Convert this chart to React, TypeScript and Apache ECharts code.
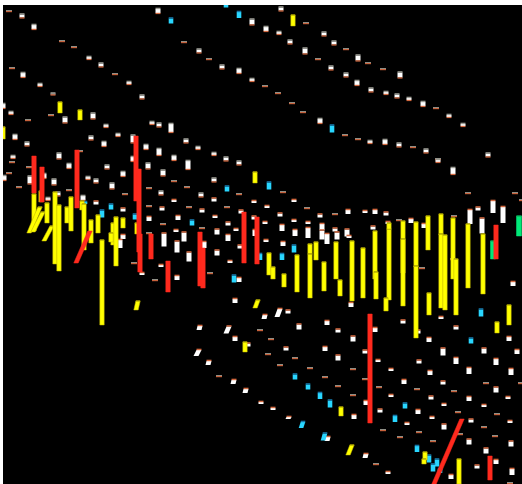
import React, { useEffect, useRef } from "react";
import * as echarts from "echarts";

// [x, y] flat, near-zero bars
const flatBars: number[][] = [
  [9,11],[62,41],[74,47],[115,74],[184,42],[209,59],[12,68],[28,120],[51,115],[80,151],[306,23],[346,49],[368,63],[383,69],[318,59],[436,108],
  [265,86],[278,93],[292,103],[303,112],[345,135],[358,139],[413,147],[438,159],[12,162],[29,167],[9,173],[19,187],[174,181],[187,187],[149,188],
  [125,194],[69,190],[239,194],[149,206],[189,207],[227,207],[163,224],[202,228],[149,233],[134,263],[210,273],[155,280],[468,193],[515,193],
  [522,200],[283,192],[307,208],[335,214],[399,220],[454,216],[422,268],[453,259],[219,376],[260,330],[271,339],[268,354],[295,358],[280,365],
  [310,368],[353,369],[325,377],[365,379],[486,383],[521,383],[338,386],[379,387],[417,389],[454,391],[353,395],[458,412],[497,414],[484,427],
  [383,430],[419,432],[460,434],[495,436],[400,437],[433,441],[376,464],[510,483],
];

// [x, y, height, lean]
const whiteBars: number[][] = [
  [22,16,3],[34,27,4],[89,58,2],[101,65,3],[129,83,2],[142,97,3],[158,11,4],[199,51,3],[222,67,3],[239,71,4],[252,22,5],[252,80,2],[23,75,4],
  [40,85,2],[53,94,1],[3,106,4],[11,113,2],[65,120,5],[93,116,5],[106,126,2],[91,138,3],[118,135,2],[15,137,4],[27,144,3],[104,144,4],[133,139,7],
  [152,123,2],[159,125,3],[171,128,8],[146,147,4],[159,152,6],[186,141,3],[198,148,2],[214,154,2],[226,159,3],[13,157,2],[59,156,5],[174,158,4],
  [133,159,4],[281,9,3],[266,29,4],[279,33,2],[290,42,3],[305,51,5],[324,34,3],[334,43,3],[358,58,5],[331,68,3],[346,75,3],[357,83,4],[371,90,3],
  [400,75,5],[386,93,2],[397,96,3],[409,99,2],[423,104,4],[449,116,2],[463,125,2],[488,155,3],[320,121,4],[370,142,2],[385,142,4],[399,145,3],
  [426,151,3],[69,166,4],[107,167,3],[4,178,4],[30,180,7],[44,176,4],[54,182,5],[88,178,2],[96,181,3],[123,174,4],[148,166,5],[163,173,5],
  [188,165,8],[239,163,3],[214,180,3],[161,193,3],[112,186,5],[58,194,3],[201,195,3],[174,201,2],[214,200,3],[254,202,2],[48,199,2],[83,198,4],
  [96,203,3],[123,210,3],[162,209,3],[202,211,3],[241,212,3],[215,217,2],[228,224,3],[254,218,3],[149,219,4],[178,218,4],[236,230,2],[176,231,2],
  [217,232,5],[228,238,6],[255,233,6],[164,240,13],[184,237,9],[177,247,11],[204,245,6],[123,237,4],[120,244,8],[240,247,3],[189,257,9],[217,253,5],
  [230,262,2],[161,266,2],[142,274,2],[177,278,4],[239,280,4],[235,301,4],[438,161,2],[453,171,6],[294,201,2],[267,207,2],[280,215,3],[294,221,2],
  [320,216,3],[348,212,4],[365,212,2],[375,212,4],[386,214,3],[478,209,3],[493,207,12],[503,215,16],[470,217,14],[482,226,15],[265,223,2],[282,228,6],
  [308,223,2],[308,233,10],[295,233,6],[322,227,6],[322,235,9],[335,230,3],[337,236,7],[327,239,10],[347,233,7],[349,237,2],[373,228,3],[388,223,2],
  [411,221,4],[424,226,4],[266,241,2],[283,244,4],[513,284,4],[351,305,4],[441,318,2],[264,317,4,1],[277,313,8,3],[288,312,3],[199,328,4,1],
  [226,330,7,3],[235,339,4],[248,345,3],[196,353,6,3],[208,363,4,1],[233,382,4,1],[245,391,4,1],[261,403,2],[299,327,5],[327,323,4],[338,331,3],
  [375,330,4],[403,322,3],[418,332,3],[456,328,3],[286,349,3],[353,339,5],[325,349,4],[429,340,4],[509,339,4],[338,358,5],[365,352,3],[443,352,7],
  [484,351,5],[517,352,4],[378,361,2],[419,362,3],[456,361,6],[496,362,6],[391,370,2],[430,373,4],[469,371,6],[511,372,6],[404,382,4],[443,383,3],
  [496,390,5],[391,396,2],[431,398,3],[469,399,4],[508,398,2],[366,403,4],[444,405,2],[484,406,2],[380,411,3],[418,412,4],[354,417,4],[432,418,2],
  [471,421,3],[510,422,2],[407,424,2],[444,427,5],[469,442,5],[511,444,5],[486,451,5],[496,462,4],[477,467,3],[512,472,6],[451,477,4],[273,409,2],
  [288,418,2,1],[327,439,4,1],[365,456,4,1],[388,473,2],
];

// [x, y, height, lean]
const cyanBars: number[][] = [
  [226,6,3],[171,21,5],[239,15,6],[332,129,7],[227,189,5],[85,203,2],[111,207,5],[102,214,7],[135,217,5],[192,223,5],[234,279,7],[260,257,6],
  [269,186,7],[294,249,7],[282,257,6],[481,313,7],[295,377,5],[308,387,5],[320,396,6],[330,404,7],[405,406,5],[395,419,6],[471,341,5],[417,449,6],
  [429,459,7],[437,463,7],[433,468,7],[440,471,4],[301,425,6,2],[323,437,7,2],
];

// [x, top, bottom, lean]
const yellowBars: number[][] = [
  [60,102,113],[80,110,120],[3,127,139],[293,15,26],[269,253,275],[273,267,279],[284,274,287],[297,255,292],[310,244,254],[310,254,298],[316,242,260],
  [324,262,291],[336,242,279],[340,280,296],[352,241,301],[363,248,298],[375,231,279],[376,272,299],[389,229,300],[389,223,229],[386,298,311],
  [403,221,273],[403,239,306],[416,222,267],[416,266,338],[428,216,250],[429,293,315],[441,214,235],[441,234,308],[445,235,310],[453,218,279],
  [456,259,315],[468,224,288],[483,234,294],[509,305,325],[34,194,231],[29,207,233,11],[33,212,232,10],[44,226,241,8],[41,191,202],[47,203,223],
  [55,192,264],[59,205,271],[67,207,223],[71,197,231],[82,201,210],[84,204,250],[91,220,243],[98,215,233],[102,240,325],[113,223,245],[111,233,242],
  [116,217,266],[123,218,228],[137,223,234],[255,172,183],[136,301,310,2],[255,300,308,3],[245,342,352],[341,407,416],[497,322,333],[425,452,460],
  [424,459,464],[459,459,484],[348,445,455,4],
];

// [x, top, bottom, lean]
const redBars: number[][] = [
  [34,156,193],[42,167,202],[77,150,208],[136,136,201],[139,169,252],[140,234,272],[151,234,259],[168,261,292],[200,232,286],[203,248,288],
  [244,212,263],[257,217,264],[370,314,423],[496,225,259],[490,456,480],[76,231,263,14],[434,419,484,28],
];

const greenBars: number[][] = [
  [519,216,236],[493,241,259],
];

type Look = { width: number; body: string; edge?: string; top?: string; bottom?: string };

// Rows given as [x, top, bottom, lean]
const tallBars = (look: Look) => (_: any, api: any) => {
  const lean = api.value(3) || 0;
  const [x, top] = api.coord([api.value(0) + lean, api.value(1)]);
  const [bx, bottom] = api.coord([api.value(0), api.value(2)]);
  const w = look.width / 2;
  const children: any[] = [
    {
      type: "polygon",
      shape: { points: [[x - w, top], [x + w, top], [bx + w, bottom], [bx - w, bottom]] },
      style: { fill: look.body, stroke: look.edge || look.body, lineWidth: 0.5 },
    },
  ];
  if (look.top) {
    children.push({ type: "rect", shape: { x: x - w, y: top - 0.7, width: look.width, height: 1.2 }, style: { fill: look.top } });
  }
  return { type: "group", children };
};

// Rows given as [x, centre y, height, lean]
const smallBars = (look: Look, orangeTopFrom: number) => (_: any, api: any) => {
  const lean = api.value(3) || 0;
  const yMid = api.value(1);
  const h = api.value(2);
  const [x, top] = api.coord([api.value(0) + lean, yMid - h / 2]);
  const [bx, bottom] = api.coord([api.value(0), yMid + h / 2]);
  const w = look.width / 2;
  const orangeTop = yMid >= orangeTopFrom;
  const children: any[] = [
    { type: "polygon", shape: { points: [[x - w, top], [x + w, top], [bx + w, bottom], [bx - w, bottom]] }, style: { fill: look.body } },
    { type: "rect", shape: { x: x - w, y: top - 1.3, width: look.width, height: 1.5 }, style: { fill: orangeTop ? look.bottom : look.top } },
  ];
  if (!orangeTop && look.bottom) {
    children.push({ type: "rect", shape: { x: bx - w, y: bottom - 0.2, width: look.width, height: 1.3 }, style: { fill: look.bottom } });
  }
  return { type: "group", children };
};

const flatItem = (_: any, api: any) => {
  const [x, y] = api.coord([api.value(0), api.value(1)]);
  return {
    type: "group",
    children: [
      { type: "rect", shape: { x: x - 3, y: y - 1, width: 6, height: 1 }, style: { fill: "#8f8f86" } },
      { type: "rect", shape: { x: x - 3, y, width: 6, height: 1.2 }, style: { fill: "#c8623c" } },
    ],
  };
};

const pad = (rows: number[][]) => rows.map((r) => [r[0], r[1], r[2] ?? 0, r[3] ?? 0]);

const series = (name: string, rows: number[][], renderItem: any) => ({
  type: "custom",
  name,
  data: pad(rows),
  renderItem,
  encode: { x: 0, y: 1 },
  clip: true,
  silent: true,
});

export default function App() {
  const ref = useRef<HTMLDivElement>(null);
  useEffect(() => {
    document.body.style.margin = "0";
    document.body.style.background = "#fff";
    const chart = echarts.init(ref.current!, null, { renderer: "svg" });
    chart.setOption({
      animation: false,
      backgroundColor: "#ffffff",
      grid: { left: 3, right: 0, top: 5, bottom: 0, show: true, backgroundColor: "#000000", borderWidth: 0 },
      xAxis: { type: "value", min: 3, max: 522, show: false },
      yAxis: { type: "value", min: 5, max: 484, inverse: true, show: false },
      series: [
        series("flat", flatBars, flatItem),
        series("white", whiteBars, smallBars({ width: 5, body: "#ffffff", top: "#9a9a92", bottom: "#d2683f" }, 200)),
        series("cyan", cyanBars, smallBars({ width: 4.6, body: "#29d6ff", top: "#1676a8", bottom: "#1676a8" }, 0)),
        series("green", greenBars, tallBars({ width: 5, body: "#00e878", top: "#0a9a50" })),
        series("yellow", yellowBars, tallBars({ width: 4.4, body: "#ffff00", edge: "#bdb000", top: "#a8a000" })),
        series("red", redBars, tallBars({ width: 4.4, body: "#ff2a1e" })),
      ],
    });
    return () => chart.dispose();
  }, []);
  return <div ref={ref} style={{ width: 522, height: 484 }} />;
}
